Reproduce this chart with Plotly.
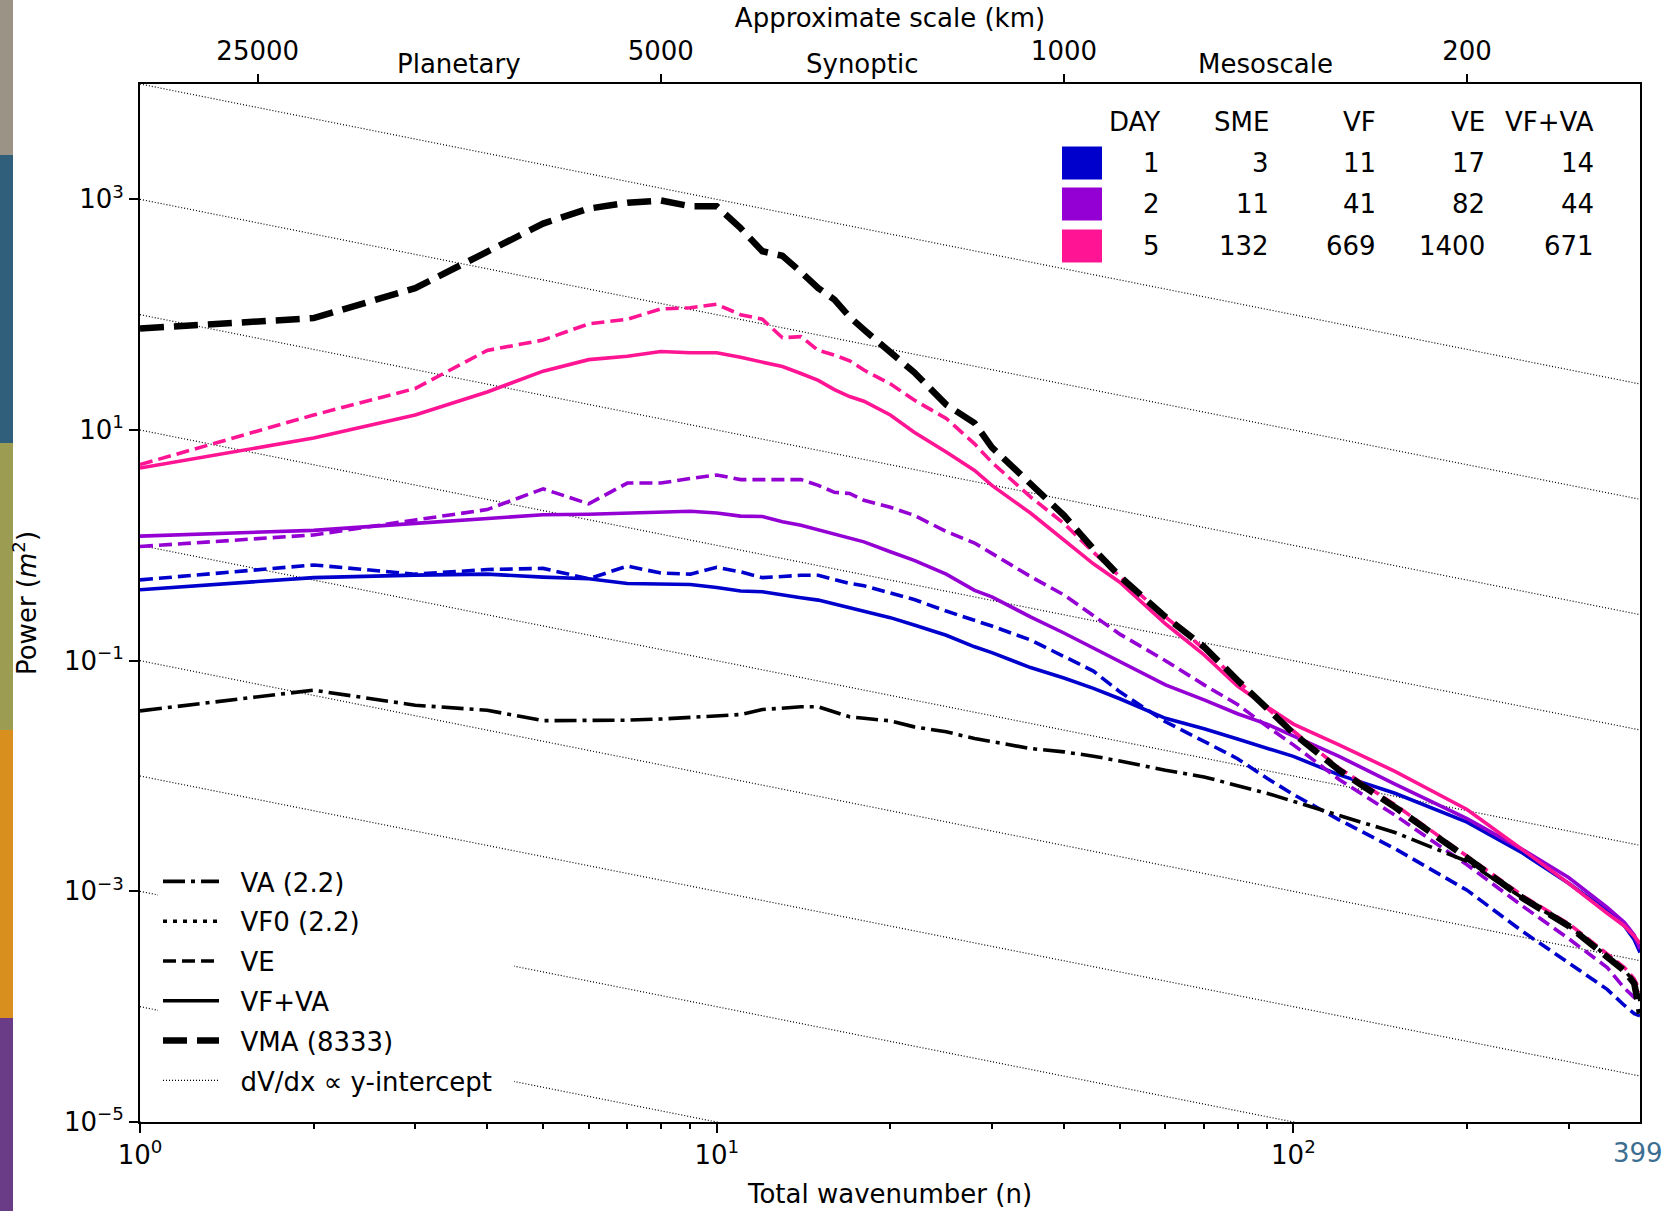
import math
import plotly.graph_objects as go

# ---------------- data ----------------
# total wavenumbers at which the curves were read
N = [1, 2, 3, 4, 5, 6, 7, 8, 9, 10, 11, 12, 13, 14, 15, 16, 17, 18, 20, 22, 25, 28, 30,
     35, 40, 45, 50, 60, 70, 80, 90, 100, 120, 150, 200, 250, 300, 350, 375, 390, 399]

# log10 of power (m^2)
VMA_LOG = [1.88, 1.97, 2.23, 2.55, 2.79, 2.92, 2.97, 2.99, 2.94, 2.94, 2.75, 2.55, 2.51, 2.37, 2.23,
           2.13, 1.98, 1.87, 1.68, 1.50, 1.22, 1.06, 0.85, 0.53, 0.26, -0.03, -0.27, -0.62, -0.88,
           -1.17, -1.42, -1.63, -1.95, -2.27, -2.71, -3.06, -3.30, -3.57, -3.69, -3.80, -4.06]
VE_D5_LOG = [0.70, 1.13, 1.36, 1.69, 1.78, 1.92, 1.96, 2.05, 2.06, 2.09, 2.00, 1.96, 1.80, 1.81, 1.69,
             1.65, 1.60, 1.52, 1.40, 1.26, 1.10, 0.88, 0.72, 0.42, 0.19, -0.06, -0.27, -0.62, -0.90,
             -1.17, -1.41, -1.61, -1.93, -2.25, -2.69, -3.04, -3.28, -3.54, -3.66, -3.76, -3.87]
VFVA_D5_LOG = [0.67, 0.93, 1.13, 1.33, 1.51, 1.61, 1.64, 1.68, 1.67, 1.67, 1.63, 1.59, 1.55, 1.49, 1.43,
               1.35, 1.29, 1.25, 1.13, 0.98, 0.81, 0.65, 0.52, 0.28, 0.05, -0.16, -0.32, -0.68, -0.95,
               -1.22, -1.40, -1.55, -1.73, -1.96, -2.29, -2.64, -2.93, -3.19, -3.30, -3.39, -3.45]
VE_D2_LOG = [-0.01, 0.09, 0.22, 0.31, 0.49, 0.36, 0.54, 0.54, 0.58, 0.61, 0.57, 0.57, 0.57, 0.57, 0.52,
             0.46, 0.45, 0.39, 0.33, 0.26, 0.12, 0.02, -0.07, -0.27, -0.43, -0.61, -0.77, -1.00, -1.21,
             -1.38, -1.57, -1.73, -2.03, -2.34, -2.77, -3.13, -3.41, -3.66, -3.84, -3.92, -3.95]
VFVA_D2_LOG = [0.08, 0.13, 0.19, 0.23, 0.265, 0.27, 0.277, 0.282, 0.295, 0.28, 0.253, 0.25, 0.204, 0.175,
               0.135, 0.10, 0.06, 0.03, -0.056, -0.13, -0.25, -0.39, -0.447, -0.62, -0.76, -0.89, -1.01,
               -1.21, -1.34, -1.46, -1.55, -1.65, -1.83, -2.07, -2.37, -2.64, -2.88, -3.14, -3.27, -3.38, -3.50]
VE_D1_LOG = [-0.30, -0.17, -0.25, -0.21, -0.20, -0.29, -0.18, -0.24, -0.25, -0.19, -0.23, -0.28, -0.27,
             -0.26, -0.26, -0.30, -0.33, -0.35, -0.41, -0.47, -0.57, -0.65, -0.70, -0.82, -0.96, -1.09,
             -1.27, -1.53, -1.70, -1.85, -2.02, -2.16, -2.38, -2.63, -2.99, -3.35, -3.62, -3.85, -3.99,
             -4.06, -4.08]
VFVA_D1_LOG = [-0.385, -0.28, -0.258, -0.25, -0.276, -0.29, -0.331, -0.337, -0.34, -0.365, -0.396, -0.403,
               -0.432, -0.455, -0.475, -0.51, -0.54, -0.57, -0.627, -0.69, -0.78, -0.88, -0.93, -1.06,
               -1.15, -1.24, -1.33, -1.50, -1.59, -1.68, -1.76, -1.83, -1.99, -2.15, -2.40, -2.67, -2.93,
               -3.17, -3.30, -3.42, -3.53]
VA_LOG = [-1.435, -1.256, -1.386, -1.43, -1.52, -1.52, -1.516, -1.506, -1.49, -1.481, -1.467, -1.424,
          -1.41, -1.40, -1.40, -1.444, -1.487, -1.50, -1.522, -1.574, -1.617, -1.675, -1.704, -1.762,
          -1.791, -1.828, -1.87, -1.95, -2.008, -2.08, -2.15, -2.22, -2.34, -2.49, -2.74, -3.06, -3.30,
          -3.56, -3.68, -3.79, -3.95]

# summary table
DAYS = [1, 2, 5]
SME = [3, 11, 132]
VF = [11, 41, 669]
VE_TOT = [17, 82, 1400]
VFVA_TOT = [14, 44, 671]
TABLE_HEADERS = ["DAY", "SME", "VF", "VE", "VF+VA"]
DAY_COLORS = ["#0000CD", "#9400D3", "#FF1493"]

# top axis: approximate scale in km  (scale = EARTH_KM / n)
EARTH_KM = 40000
SCALE_KM = [25000, 5000, 1000, 200]
REGIMES = ["Planetary", "Synoptic", "Mesoscale"]

# reference lines dV/dx ∝ y-intercept (power ∝ 1/n)
INTERCEPTS = [1e-5, 1e-4, 1e-3, 1e-2, 1e-1, 1e0, 1e1, 1e2, 1e3, 1e4]
N_MAX = 399

X_TICKS = [1, 10, 100]
X_TICK_TEXT = ["10<sup>0</sup>", "10<sup>1</sup>", "10<sup>2</sup>"]
X_MINOR = [2, 3, 4, 5, 6, 7, 8, 9, 20, 30, 40, 50, 60, 70, 80, 90, 200, 300]
Y_TICKS = [1e-5, 1e-3, 1e-1, 1e1, 1e3]
Y_TICK_TEXT = ["10<sup>\u22125</sup>", "10<sup>\u22123</sup>", "10<sup>\u22121</sup>",
               "10<sup>1</sup>", "10<sup>3</sup>"]
Y_RANGE_LOG = [-5, 4]

STRIP_COLORS = ["#9b9385", "#2f5f7b", "#9d9c53", "#d98f1e", "#6a3b86"]

# ---------------- layout geometry ----------------
W, H = 1667, 1211
ML, MR, MT, MB = 140, 27, 84, 89
PW, PH = W - ML - MR, H - MT - MB
FONT = "DejaVu Sans"
FS = 26
PAD = "\u00a0\u00a0"


def px_x(p):
    return (p - ML) / PW


def px_y(p):
    return (H - MB - p) / PH


def pw(vals):
    return [10 ** v for v in vals]


fig = go.Figure()

# reference dotted lines
rx, ry = [], []
for c in INTERCEPTS:
    rx += [1, N_MAX, None]
    ry += [c, c / N_MAX, None]
fig.add_trace(go.Scatter(x=rx, y=ry, mode="lines",
                         name=PAD + "dV/dx \u221d y-intercept\u00a0\u00a0",
                         legendgroup="g6", legendrank=6,
                         line=dict(color="black", width=1.2, dash="1px,2px"), hoverinfo="skip"))

series = [
    (VE_D1_LOG, DAY_COLORS[0], "dash"), (VFVA_D1_LOG, DAY_COLORS[0], "solid"),
    (VE_D2_LOG, DAY_COLORS[1], "dash"), (VFVA_D2_LOG, DAY_COLORS[1], "solid"),
    (VE_D5_LOG, DAY_COLORS[2], "dash"), (VFVA_D5_LOG, DAY_COLORS[2], "solid"),
]
for vals, col, sty in series:
    dash = "13px,6px" if sty == "dash" else "solid"
    fig.add_trace(go.Scatter(x=N, y=pw(vals), mode="lines", showlegend=False,
                             line=dict(color=col, width=3.6, dash=dash)))

fig.add_trace(go.Scatter(x=N, y=pw(VA_LOG), mode="lines", name=PAD + "VA (2.2)",
                         legendgroup="g1", legendrank=1,
                         line=dict(color="black", width=3.6, dash="22px,6px,4px,6px")))
fig.add_trace(go.Scatter(x=N, y=pw(VMA_LOG), mode="lines", name=PAD + "VMA (8333)",
                         legendgroup="g5", legendrank=5,
                         line=dict(color="black", width=6.5, dash="24px,10px")))

# legend-only entries
fig.add_trace(go.Scatter(x=[None], y=[None], mode="lines", name=PAD + "VF0 (2.2)",
                         legendgroup="g2", legendrank=2,
                         line=dict(color="black", width=3.6, dash="4px,6px")))
fig.add_trace(go.Scatter(x=[None], y=[None], mode="lines", name=PAD + "VE",
                         legendgroup="g3", legendrank=3,
                         line=dict(color="black", width=3.6, dash="13px,6px")))
fig.add_trace(go.Scatter(x=[None], y=[None], mode="lines", name=PAD + "VF+VA",
                         legendgroup="g4", legendrank=4,
                         line=dict(color="black", width=3.6)))

# helper trace for the top axis
top_n = [EARTH_KM / k for k in SCALE_KM]
fig.add_trace(go.Scatter(x=top_n, y=[None] * len(top_n), xaxis="x2", mode="lines",
                         showlegend=False, hoverinfo="skip"))

xr = [0, math.log10(N_MAX)]
axis_common = dict(showgrid=False, zeroline=False, linecolor="black", linewidth=2,
                   tickcolor="black", tickwidth=2, ticklen=9, ticks="outside", automargin=False,
                   tickfont=dict(family=FONT, size=FS, color="black"))

fig.update_layout(
    width=W, height=H,
    margin=dict(l=ML, r=MR, t=MT, b=MB, autoexpand=False),
    paper_bgcolor="white", plot_bgcolor="white",
    font=dict(family=FONT, size=FS, color="black"),
    xaxis=dict(type="log", range=xr, tickmode="array", tickvals=X_TICKS, ticktext=X_TICK_TEXT,
               mirror=True, showline=True,
               minor=dict(tickmode="array", tickvals=X_MINOR, ticks="outside", ticklen=5,
                          tickwidth=1.5, tickcolor="black", showgrid=False),
               title=dict(text="Total wavenumber (n)", font=dict(family=FONT, size=FS), standoff=16),
               **axis_common),
    xaxis2=dict(type="log", range=xr, overlaying="x", side="top", anchor="y",
                tickmode="array", tickvals=top_n, ticktext=[str(k) for k in SCALE_KM],
                showline=False, ticklabelstandoff=4,
                title=dict(text="Approximate scale (km)", font=dict(family=FONT, size=FS), standoff=0),
                **axis_common),
    yaxis=dict(type="log", range=Y_RANGE_LOG, tickmode="array", tickvals=Y_TICKS,
               ticktext=Y_TICK_TEXT, mirror=True, showline=True,
               title=dict(text="Power (<i>m</i><sup>2</sup>)", font=dict(family=FONT, size=FS), standoff=20),
               **axis_common),
    legend=dict(x=px_x(158), y=px_y(1104), xanchor="left", yanchor="bottom",
                bgcolor="white", borderwidth=0, font=dict(family=FONT, size=FS, color="black"),
                itemwidth=56, traceorder="grouped", tracegroupgap=3),
    showlegend=True,
)

annotations = []
shapes = []

# regime names between the scale ticks
for i, name in enumerate(REGIMES):
    a, b = top_n[i], top_n[i + 1]
    annotations.append(dict(x=0.5 * (math.log10(a) + math.log10(b)), xref="x", y=1, yref="paper",
                            yanchor="bottom", yshift=3, text=name, showarrow=False,
                            font=dict(family=FONT, size=FS, color="black")))

# 399 label at the right end of the x axis
annotations.append(dict(x=px_x(1665), xref="paper", y=0, yref="paper", xanchor="right",
                        yanchor="middle", yshift=-31, text=str(N_MAX), showarrow=False,
                        font=dict(family=FONT, size=FS, color="#3c6e91")))

# summary table
col_right = [1162, 1271, 1378, 1487, 1596]
row_y = [122, 163, 204, 246]
for j, h in enumerate(TABLE_HEADERS):
    annotations.append(dict(x=px_x(col_right[j]), y=px_y(row_y[0]), xref="paper", yref="paper",
                            xanchor="right", yanchor="middle", text=h, showarrow=False,
                            font=dict(family=FONT, size=FS, color="black")))
for i in range(len(DAYS)):
    row = [DAYS[i], SME[i], VF[i], VE_TOT[i], VFVA_TOT[i]]
    for j, v in enumerate(row):
        annotations.append(dict(x=px_x(col_right[j]), y=px_y(row_y[i + 1]), xref="paper", yref="paper",
                                xanchor="right", yanchor="middle", text=str(v), showarrow=False,
                                font=dict(family=FONT, size=FS, color="black")))
    shapes.append(dict(type="rect", xref="paper", yref="paper",
                       x0=px_x(1062), x1=px_x(1102),
                       y0=px_y(row_y[i + 1] + 16.5), y1=px_y(row_y[i + 1] - 16.5),
                       fillcolor=DAY_COLORS[i], line=dict(width=0)))

# colored strip at the far left
bounds = [0, 155, 443, 730, 1018, H]
for i, col in enumerate(STRIP_COLORS):
    shapes.append(dict(type="rect", xref="paper", yref="paper",
                       x0=px_x(0), x1=px_x(13), y0=px_y(bounds[i + 1]), y1=px_y(bounds[i]),
                       fillcolor=col, line=dict(width=0), layer="above"))

fig.update_layout(annotations=annotations, shapes=shapes)
fig.write_html("out.html", config={"displayModeBar": False},
               post_script="document.body.style.margin='0';document.body.style.overflow='hidden';")
